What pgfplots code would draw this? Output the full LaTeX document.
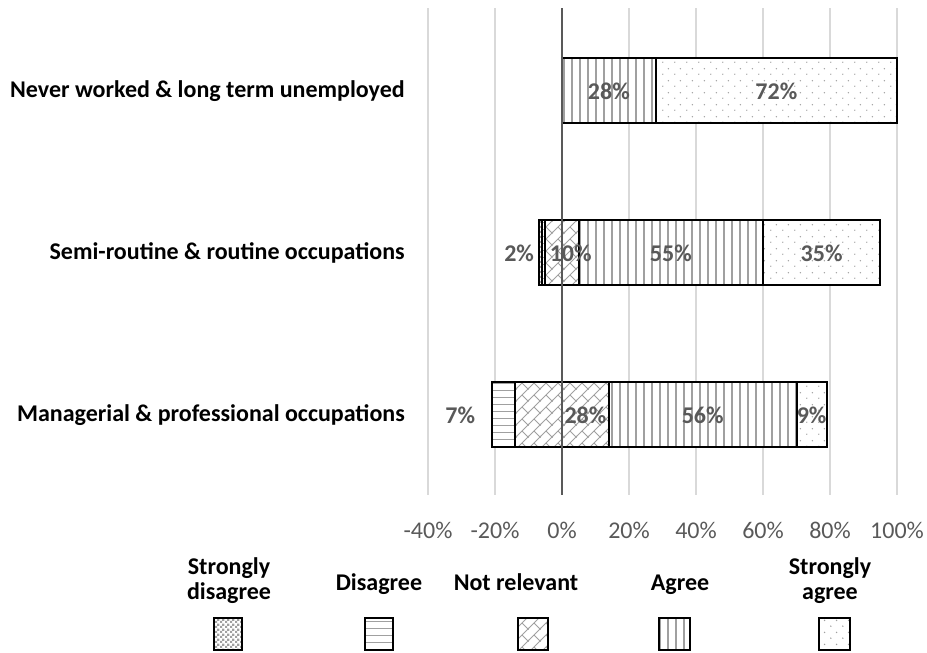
\documentclass[border=0pt]{standalone}
\usepackage{fontspec}
\setmainfont{Carlito}
\usepackage{pgfplots}
\pgfplotsset{compat=1.18}
\usepackage{pgfplotstable}
\usetikzlibrary{patterns}
\definecolor{gridc}{HTML}{D9D9D9}
\definecolor{labc}{HTML}{595959}
\definecolor{patc}{HTML}{A0A0A0}
\definecolor{zeroc}{HTML}{595959}

\pgfdeclarepatternformonly{vlinesx}{\pgfpoint{0pt}{-0.5pt}}{\pgfpoint{8pt}{8.5pt}}{\pgfpoint{8pt}{8pt}}%
  {\pgfsetlinewidth{1.2pt}\pgfpathmoveto{\pgfpoint{4pt}{-0.5pt}}\pgfpathlineto{\pgfpoint{4pt}{8.5pt}}\pgfusepath{stroke}}
\pgfdeclarepatternformonly{hlinesx}{\pgfpoint{-0.5pt}{0pt}}{\pgfpoint{7.5pt}{7pt}}{\pgfpoint{7pt}{7pt}}%
  {\pgfsetlinewidth{1pt}\pgfpathmoveto{\pgfpoint{-0.5pt}{3.5pt}}\pgfpathlineto{\pgfpoint{7.5pt}{3.5pt}}\pgfusepath{stroke}}
\pgfdeclarepatternformonly{sdotsx}{\pgfpoint{0pt}{0pt}}{\pgfpoint{12pt}{12pt}}{\pgfpoint{12pt}{12pt}}%
  {\pgfpathcircle{\pgfpoint{3pt}{3pt}}{0.8pt}\pgfpathcircle{\pgfpoint{9pt}{9pt}}{0.8pt}\pgfusepath{fill}}
\pgfdeclarepatternformonly{checkerx}{\pgfpoint{0pt}{0pt}}{\pgfpoint{5pt}{5pt}}{\pgfpoint{5pt}{5pt}}%
  {\pgfpathrectangle{\pgfpoint{0pt}{0pt}}{\pgfpoint{2.5pt}{2.5pt}}\pgfpathrectangle{\pgfpoint{2.5pt}{2.5pt}}{\pgfpoint{2.5pt}{2.5pt}}\pgfusepath{fill}}
\pgfdeclarepatternformonly{brickx}{\pgfpoint{-1pt}{-1pt}}{\pgfpoint{13pt}{13pt}}{\pgfpoint{12pt}{12pt}}%
  {\pgfsetlinewidth{0.8pt}\pgfpathmoveto{\pgfpoint{-1pt}{-1pt}}\pgfpathlineto{\pgfpoint{13pt}{13pt}}\pgfpathmoveto{\pgfpoint{6pt}{6pt}}\pgfpathlineto{\pgfpoint{12.5pt}{-0.5pt}}\pgfusepath{stroke}}

\tikzset{
  segSD/.style={draw=black, line width=2pt, preaction={fill=white}, pattern=checkerx, pattern color=patc},
  segD/.style={draw=black, line width=2pt, preaction={fill=white}, pattern=hlinesx, pattern color=patc},
  segNR/.style={draw=black, line width=2pt, preaction={fill=white}, pattern=brickx, pattern color=patc},
  segA/.style={draw=black, line width=2pt, preaction={fill=white}, pattern=vlinesx, pattern color=patc},
  segSA/.style={draw=black, line width=2pt, preaction={fill=white}, pattern=sdotsx, pattern color=patc},
  vlab/.style={font=\bfseries\fontsize{24}{28}\selectfont, text=labc, inner sep=0pt},
}

% x values are shifted by +40 (axis position 40 = 0%); off = start of bar + 40
\pgfplotstableread{
y off SD D NR A SA
0 19 0 7 28 56 9
1 33 1 1 10 55 35
2 40 0 0 0 28 72
}\datatable

\begin{document}
\begin{tikzpicture}
\useasboundingbox (0pt,0pt) rectangle (927pt,653pt);
\begin{axis}[
  at={(428pt,158pt)}, anchor=south west,
  scale only axis, width=469pt, height=487pt,
  xbar stacked, bar width=65pt,
  xmin=0, xmax=140, ymin=-0.494, ymax=2.512,
  xtick={0,20,40,60,80,100,120,140},
  xticklabels={-40\%,-20\%,0\%,20\%,40\%,60\%,80\%,100\%},
  xticklabel style={font=\fontsize{24}{28}\selectfont, text=labc, anchor=north, inner sep=0pt, yshift=-27pt},
  ytick={0,1,2},
  yticklabels={Managerial \& professional occupations, Semi-routine \& routine occupations, Never worked \& long term unemployed},
  yticklabel style={font=\bfseries\fontsize{24}{28}\selectfont, text=black, anchor=east, inner sep=0pt, xshift=-23pt},
  xmajorgrids, grid style={draw=gridc, line width=1.5pt},
  axis line style={draw=none}, tick style={draw=none},
  clip=false,
]
\addplot[draw=none, fill=none] table[x=off, y=y] \datatable;
\addplot[segSD] table[x=SD, y=y] \datatable;
\addplot[segD] table[x=D, y=y] \datatable;
\addplot[segNR] table[x=NR, y=y] \datatable;
\addplot[segA] table[x=A, y=y] \datatable;
\addplot[segSA] table[x=SA, y=y] \datatable;
\coordinate (z0) at (axis cs:40,-0.494);
\coordinate (z1) at (axis cs:40,2.512);
\coordinate (l1) at (axis cs:54,2);
\coordinate (l2) at (axis cs:104,2);
\coordinate (l3) at (axis cs:27.2,1);
\coordinate (l4) at (axis cs:42.6,1);
\coordinate (l5) at (axis cs:72.5,1);
\coordinate (l6) at (axis cs:117.5,1);
\coordinate (l7) at (axis cs:9.6,0);
\coordinate (l8) at (axis cs:47,0);
\coordinate (l9) at (axis cs:82,0);
\coordinate (l10) at (axis cs:114.5,0);
\end{axis}
\draw[zeroc, line width=1.5pt] (z0) -- (z1);
\node[vlab] at (l1) {28\%};
\node[vlab] at (l2) {72\%};
\node[vlab] at (l3) {2\%};
\node[vlab] at (l4) {10\%};
\node[vlab] at (l5) {55\%};
\node[vlab] at (l6) {35\%};
\node[vlab] at (l7) {7\%};
\node[vlab] at (l8) {28\%};
\node[vlab] at (l9) {56\%};
\node[vlab] at (l10) {9\%};
% legend
\begin{scope}[every node/.style={font=\bfseries\fontsize{24}{28}\selectfont, text=black, anchor=base, inner sep=0pt}]
\node at (229pt,78pt) {Strongly};
\node at (229pt,53pt) {disagree};
\node at (379pt,62pt) {Disagree};
\node at (516pt,62pt) {Not relevant};
\node at (680pt,62pt) {Agree};
\node at (830pt,78pt) {Strongly};
\node at (830pt,53pt) {agree};
\end{scope}
\draw[segSD] (214pt,3pt) rectangle (242pt,35pt);
\draw[segD] (365pt,3pt) rectangle (393pt,35pt);
\draw[segNR] (518pt,3pt) rectangle (548pt,35pt);
\draw[segA] (659pt,3pt) rectangle (690pt,35pt);
\draw[segSA] (819pt,3pt) rectangle (850pt,35pt);
\end{tikzpicture}
\end{document}
